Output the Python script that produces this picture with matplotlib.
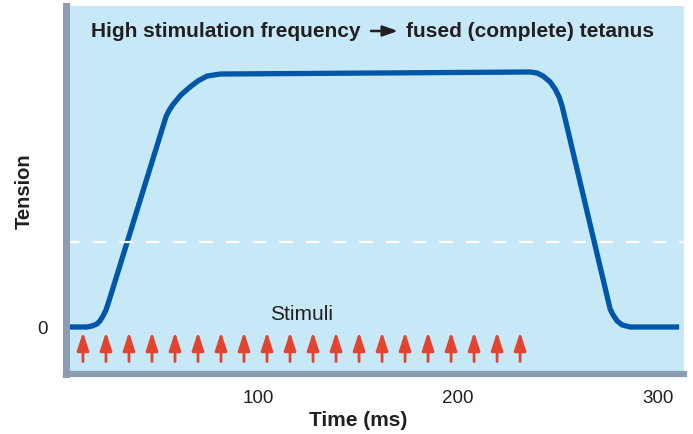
import matplotlib.pyplot as plt

# tension trace (time in ms, tension relative to plateau)
time_ms = [6, 14.5, 17, 19.5, 21, 22.5, 24, 25, 52.5, 54, 55.5, 57.5, 61.5, 66, 70, 74.5, 81,
           236, 239.5, 242.5, 246, 248.5, 250.5, 252, 276, 277.5, 279.5, 282, 286, 310.5]
tension = [0, 0, 0.004, 0.012, 0.024, 0.043, 0.067, 0.09, 0.79, 0.828, 0.852, 0.876, 0.914,
           0.945, 0.969, 0.988, 0.996, 1.004, 1.0, 0.988, 0.965, 0.937, 0.906, 0.87, 0.071,
           0.047, 0.024, 0.008, 0, 0]

# one stimulus every ~11.5 ms
stimuli_ms = [12.5, 24, 35.5, 47, 58.5, 70, 81.5, 93, 104.5, 116,
              127.5, 139, 150.5, 162, 173.5, 185, 196.5, 208, 219.5, 231]

xticks = [100, 200, 300]
threshold = 0.335

plt.rcParams['font.family'] = ['Liberation Sans', 'DejaVu Sans']
ink = '#231f20'

fig = plt.figure(figsize=(6.93, 4.35), dpi=100)
ax = fig.add_axes([0.0952, 0.138, 0.892, 0.846])
ax.set_facecolor('#c6e8f7')

ax.set_xlim(4, 313)
ax.set_ylim(-0.185, 1.264)

# trace
ax.plot(time_ms, tension, color='#0057a8', linewidth=3.8, solid_capstyle='butt',
        solid_joinstyle='round')

# dashed threshold line
ax.axhline(threshold, color='white', linewidth=1.6, dashes=(6, 6))

# stimulus arrows
for t in stimuli_ms:
    ax.annotate('', xy=(t, -0.02), xytext=(t, -0.136),
                arrowprops=dict(arrowstyle='-|>,head_length=1.1,head_width=0.36',
                                color='#e2442f', linewidth=2.0, shrinkA=0, shrinkB=0))
ax.text(122, 0.055, 'Stimuli', ha='center', va='center', fontsize=15, color=ink)

# title pieces with an arrow between them
ax.text(0.0405, 0.932, 'High stimulation frequency', transform=ax.transAxes,
        ha='left', va='center', fontsize=15, fontweight='bold', color=ink)
ax.annotate('', xy=(0.537, 0.932), xytext=(0.4935, 0.932), xycoords='axes fraction',
            arrowprops=dict(arrowstyle='-|>,head_length=0.9,head_width=0.32',
                            color=ink, linewidth=1.8, shrinkA=0, shrinkB=0))
ax.text(0.951, 0.932, 'fused (complete) tetanus', transform=ax.transAxes,
        ha='right', va='center', fontsize=15, fontweight='bold', color=ink)

# frame
for side in ['top', 'right']:
    ax.spines[side].set_visible(False)
ax.spines['left'].set_linewidth(5)
ax.spines['left'].set_color('#8c9db1')
ax.spines['bottom'].set_linewidth(4.5)
ax.spines['bottom'].set_color('#8c9db1')

ax.set_xticks(xticks)
ax.set_xticklabels([str(v) for v in xticks])
ax.set_yticks([0])
ax.set_yticklabels(['0'])
ax.tick_params(axis='both', length=0, labelsize=13.5, colors=ink)
ax.tick_params(axis='x', pad=11)
ax.tick_params(axis='y', pad=13)

ax.set_xlabel('Time (ms)', fontsize=15, fontweight='bold', color=ink)
ax.xaxis.set_label_coords(0.472, -0.097)
ax.set_ylabel('Tension', fontsize=14.5, fontweight='bold', color=ink)
ax.yaxis.set_label_coords(-0.052, 0.5)

fig.savefig('out.png', dpi=100)
